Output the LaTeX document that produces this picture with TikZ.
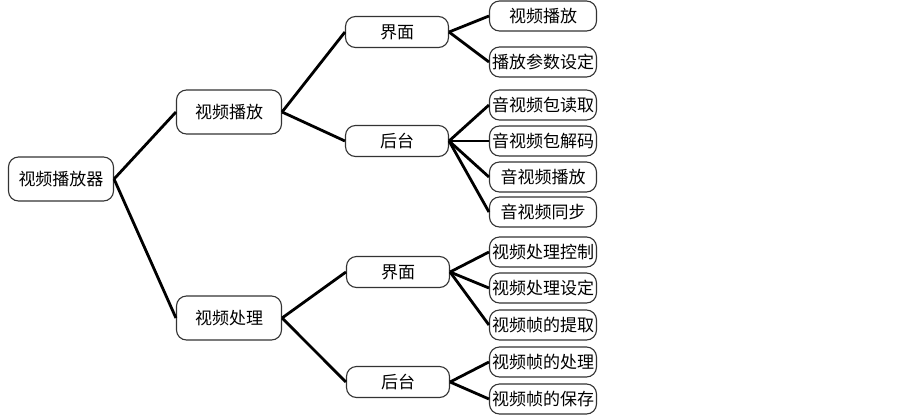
\documentclass[tikz,border=0pt]{standalone}
\usepackage{fontspec}
\newfontfamily\cjk{Noto Sans CJK SC}
\begin{document}
\begin{tikzpicture}[x=1pt,y=-1pt,
  box/.style={draw=black!80,line width=1.1pt,rounded corners=10pt,fill=white,
    inner sep=0pt,align=center,font=\cjk\fontsize{17}{20}\selectfont},
  big/.style={box,minimum width=105pt,minimum height=44pt},
  mid/.style={box,minimum width=103pt,minimum height=31pt},
  leaf/.style={box,minimum width=107pt,minimum height=30pt},
  conn/.style={line width=2.8pt,black}]
\useasboundingbox (0,0) rectangle (903,416);
\node[big] (root) at (61,179) {视频播放器};
\node[big] (p) at (229,112) {视频播放};
\node[big] (q) at (229,318) {视频处理};
\node[mid] (pa) at (397,32) {界面};
\node[mid] (pb) at (397,141) {后台};
\node[mid] (qa) at (398,272) {界面};
\node[mid] (qb) at (398,382) {后台};
\node[leaf] (l1) at (543,16) {视频播放};
\node[leaf] (l2) at (543,62) {播放参数设定};
\node[leaf] (l3) at (543,105) {音视频包读取};
\node[leaf] (l4) at (543,141) {音视频包解码};
\node[leaf] (l5) at (543,177) {音视频播放};
\node[leaf] (l6) at (543,212) {音视频同步};
\node[leaf] (l7) at (543,252) {视频处理控制};
\node[leaf] (l8) at (543,288) {视频处理设定};
\node[leaf] (l9) at (543,325) {视频帧的提取};
\node[leaf] (l10) at (543,362) {视频帧的处理};
\node[leaf] (l11) at (543,399) {视频帧的保存};
\draw[conn] (root.east) -- (p.west);
\draw[conn] (root.east) -- (q.west);
\draw[conn] (p.east) -- (pa.west);
\draw[conn] (p.east) -- (pb.west);
\draw[conn] (q.east) -- (qa.west);
\draw[conn] (q.east) -- (qb.west);
\draw[conn] (pa.east) -- (l1.west);
\draw[conn] (pa.east) -- (l2.west);
\draw[conn] (pb.east) -- (l3.west);
\draw[conn] (pb.east) -- (l4.west);
\draw[conn] (pb.east) -- (l5.west);
\draw[conn] (pb.east) -- (l6.west);
\draw[conn] (qa.east) -- (l7.west);
\draw[conn] (qa.east) -- (l8.west);
\draw[conn] (qa.east) -- (l9.west);
\draw[conn] (qb.east) -- (l10.west);
\draw[conn] (qb.east) -- (l11.west);
\end{tikzpicture}
\end{document}
